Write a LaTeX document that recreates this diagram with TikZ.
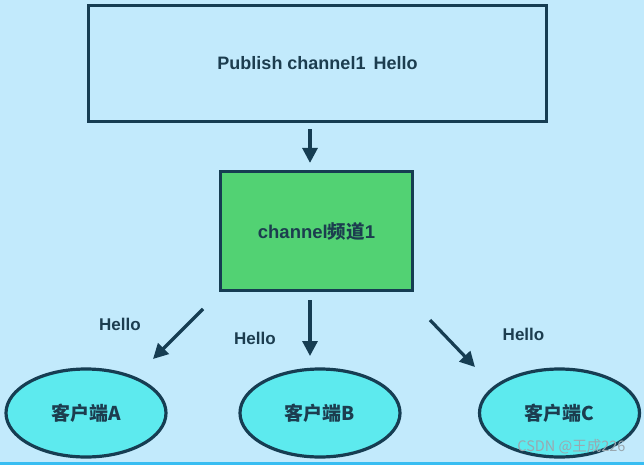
\documentclass[tikz,border=0pt]{standalone}
\usepackage{fontspec}
\setmainfont{Liberation Sans}
\newfontfamily\cjk{Noto Sans CJK SC}
\usetikzlibrary{arrows.meta,shapes.geometric}
\definecolor{bgblue}{HTML}{C2EAFC}
\definecolor{edge}{HTML}{163D52}
\definecolor{txt}{HTML}{1C3D4F}
\definecolor{boxgreen}{HTML}{52D273}
\definecolor{cyanfill}{HTML}{5DEAEE}
\definecolor{stripe}{HTML}{38BDF2}
\definecolor{wmgray}{HTML}{9AA8B0}
\tikzset{
  boxstyle/.style={draw=edge, line width=3.2pt, text=txt, font=\fontsize{18}{21}\selectfont\bfseries},
  client/.style={ellipse, draw=edge, line width=3.2pt, fill=cyanfill, text=txt, inner sep=0pt,
    minimum width=160pt, minimum height=88pt, font=\cjk\fontsize{19}{22}\selectfont\bfseries},
  arr/.style={draw=edge, line width=3.2pt, -{Triangle[length=15pt,width=15pt]}},
  hello/.style={text=txt, font=\fontsize{17}{20}\selectfont\bfseries}
}
\begin{document}
\begin{tikzpicture}[x=1pt,y=-1pt]
\fill[bgblue] (0,0) rectangle (644,465);
\useasboundingbox (0,0) rectangle (644,465);
\fill[stripe] (0,462) rectangle (644,465);
\node[boxstyle, minimum width=458pt, minimum height=116pt] (pub) at (317.5,63.5) {Publish channel1\, Hello};
\node[boxstyle, fill=boxgreen, minimum width=192pt, minimum height=119pt, font=\fontsize{18.5}{21}\selectfont\bfseries] (chan) at (316.5,231) {channel{\cjk 频道}1};
\node[client] (a) at (86,413) {客户端A};
\node[client] (b) at (320,413) {客户端B};
\node[client] (c) at (559.5,413) {客户端C};
\coordinate (a1) at (203,309); \coordinate (a2) at (153,359);
\coordinate (b1) at (310,300); \coordinate (b2) at (310,356);
\coordinate (c1) at (430,320); \coordinate (c2) at (475,367);
\draw[arr, shorten <=6pt, shorten >=7pt] (pub.south -| 310,0) -- (chan.north -| 310,0);
\draw[arr] (a1) -- (a2);
\draw[arr] (b1) -- (b2);
\draw[arr] (c1) -- (c2);
\node[hello] (h1) at (120,324.5) {Hello};
\node[hello] (h2) at (255,338) {Hello};
\node[hello] (h3) at (523.5,334) {Hello};
\node[text=wmgray, font=\cjk\fontsize{14.5}{16}\selectfont, anchor=east] (wm) at (629,447) {CSDN @王成226};
\end{tikzpicture}
\end{document}
